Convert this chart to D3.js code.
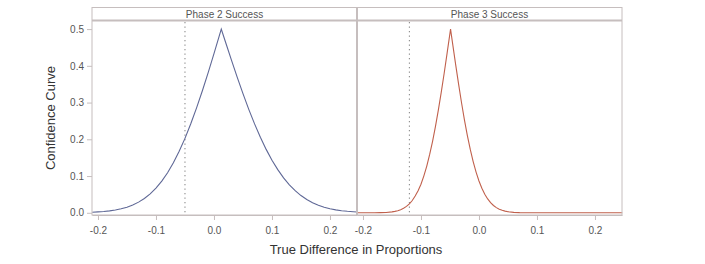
<!DOCTYPE html>
<html><head><meta charset="utf-8">
<script src="https://cdn.jsdelivr.net/npm/d3@7"></script>
<style>body{margin:0;background:#fff}svg{display:block}</style>
</head><body>
<svg id="c" width="705" height="264"></svg>
<script>
// Panels
const panels = ["Phase 2 Success", "Phase 3 Success"];
const refLines = [-0.05, -0.12];
// Phase 2 curve
const p2x = [-0.21,-0.20,-0.19,-0.18,-0.17,-0.16,-0.15,-0.14,-0.13,-0.12,-0.11,-0.10,-0.09,-0.08,-0.07,-0.06,-0.05,-0.04,-0.03,-0.02,-0.01,0.00,0.0126,0.02,0.03,0.04,0.05,0.06,0.07,0.08,0.09,0.10,0.11,0.12,0.13,0.14,0.15,0.16,0.17,0.18,0.19,0.20,0.21,0.22,0.23,0.24,0.247];
const p2y = [0.0015,0.0024,0.0035,0.0052,0.0076,0.0109,0.0153,0.0212,0.0290,0.0390,0.0516,0.0672,0.0863,0.1091,0.1361,0.1673,0.2026,0.2423,0.2857,0.3322,0.3817,0.4333,0.5,0.4641,0.4160,0.3692,0.3242,0.2816,0.2420,0.2056,0.1726,0.1432,0.1174,0.0951,0.0761,0.0601,0.0469,0.0361,0.0274,0.0206,0.0153,0.0112,0.0080,0.0057,0.0040,0.0028,0.0022];
// Phase 3 curve
const p3x = [-0.21,-0.20,-0.19,-0.18,-0.17,-0.16,-0.15,-0.145,-0.14,-0.135,-0.13,-0.125,-0.12,-0.115,-0.11,-0.105,-0.10,-0.095,-0.09,-0.085,-0.08,-0.075,-0.07,-0.065,-0.06,-0.055,-0.049,-0.045,-0.04,-0.035,-0.03,-0.025,-0.02,-0.015,-0.01,-0.005,0.00,0.005,0.01,0.015,0.02,0.025,0.03,0.035,0.04,0.045,0.05,0.06,0.07,0.08,0.09,0.10,0.15,0.20,0.247];
const p3y = [0,0,0,0.0001,0.0004,0.0010,0.0025,0.0038,0.0057,0.0084,0.0122,0.0174,0.0244,0.0334,0.0455,0.0599,0.0778,0.1006,0.1271,0.1587,0.1946,0.2351,0.2800,0.3285,0.3799,0.4337,0.5,0.4558,0.4013,0.3487,0.2988,0.2524,0.2102,0.1726,0.1394,0.1108,0.0867,0.0668,0.0506,0.0377,0.0276,0.0199,0.0141,0.0098,0.0067,0.0045,0.0030,0.0012,0.0005,0.0002,0.0001,0,0,0,0];
const xTicks = [-0.2,-0.1,0.0,0.1,0.2];
const yTicks = [0.0,0.1,0.2,0.3,0.4,0.5];
const series = [{x:p2x,y:p2y,color:"#5f6896"},{x:p3x,y:p3y,color:"#c0604c"}];

const svg = d3.select("#c");
const frame = "#c6bebe";
const yTop = 7.5, hdrB = 21, bot = 215;
const lefts = [92, 357], w = 265;
const y = d3.scaleLinear().domain([-0.006, 0.522]).range([bot, hdrB]);
const font = "'Liberation Sans', Arial, sans-serif";
const fmt = d => d.toFixed(1);

panels.forEach((name, i) => {
  const x0 = lefts[i];
  const x = d3.scaleLinear().domain([-0.2103, 0.2466]).range([x0, x0 + w]);
  const g = svg.append("g");
  // reference dotted line
  g.append("line").attr("x1", x(refLines[i])).attr("x2", x(refLines[i]))
    .attr("y1", hdrB + 1).attr("y2", bot).attr("stroke", "#808080")
    .attr("stroke-width", 1).attr("stroke-dasharray", "1.3,3.2");
  // curve
  const s = series[i];
  const pts = s.x.map((v, k) => [v, s.y[k]]);
  g.append("path").datum(pts)
    .attr("d", d3.line().x(d => x(d[0])).y(d => y(d[1])))
    .attr("fill", "none").attr("stroke", s.color).attr("stroke-width", 1.1);
  // frames
  g.append("rect").attr("x", x0).attr("y", yTop).attr("width", w).attr("height", bot - yTop)
    .attr("fill", "none").attr("stroke", frame).attr("stroke-width", 1);
  g.append("line").attr("x1", x0).attr("x2", x0 + w).attr("y1", hdrB - 0.5).attr("y2", hdrB - 0.5)
    .attr("stroke", frame).attr("stroke-width", 2);
  g.append("text").attr("x", x0 + w / 2).attr("y", 17.5).attr("text-anchor", "middle")
    .attr("font-family", font).attr("font-size", 10).attr("fill", "#555").text(name);
  // x axis
  const ax = g.append("g").attr("transform", `translate(0,${bot})`)
    .call(d3.axisBottom(x).tickValues(xTicks).tickFormat(fmt).tickSize(5).tickSizeOuter(0));
  ax.select(".domain").attr("stroke", frame);
  ax.selectAll(".tick line").attr("stroke", frame);
  ax.selectAll("text").attr("font-family", font).attr("font-size", 10).attr("fill", "#555").attr("dy", "1.05em");
});
// separator
svg.append("line").attr("x1", 357).attr("x2", 357).attr("y1", yTop).attr("y2", bot).attr("stroke", frame).attr("stroke-width", 2);

// y axis
const ay = svg.append("g").attr("transform", `translate(${lefts[0]},0)`)
  .call(d3.axisLeft(y).tickValues(yTicks).tickFormat(fmt).tickSize(5).tickSizeOuter(0));
ay.select(".domain").remove();
ay.selectAll(".tick line").attr("stroke", frame);
ay.selectAll("text").attr("font-family", font).attr("font-size", 10).attr("fill", "#555");

// axis labels
svg.append("text").attr("x", 356).attr("y", 254).attr("text-anchor", "middle")
  .attr("font-family", font).attr("font-size", 13).attr("fill", "#333").text("True Difference in Proportions");
svg.append("text").attr("transform", "translate(55,118) rotate(-90)").attr("text-anchor", "middle")
  .attr("font-family", font).attr("font-size", 13).attr("fill", "#333").text("Confidence Curve");
</script>
</body></html>
